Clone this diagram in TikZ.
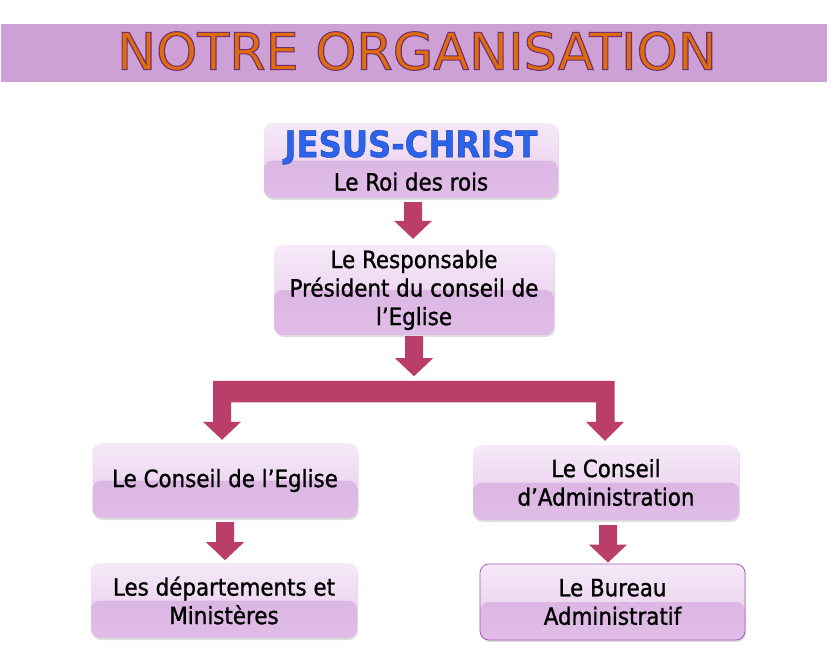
\documentclass[tikz,border=0pt]{standalone}
\usepackage{fontspec}
\setmainfont{DejaVu Sans Condensed}
\newfontfamily\bodyfont{DejaVu Sans Condensed}[FakeBold=1.0]
\newfontfamily\titlefont{DejaVu Sans Condensed}[FakeBold=2.0]
\usetikzlibrary{calc,shadows}
\definecolor{bandcol}{HTML}{CDA1D6}
\definecolor{titleorange}{HTML}{E36C0A}
\definecolor{jcblue}{HTML}{2B63EA}
\definecolor{boxtop}{HTML}{F6E9F8}
\definecolor{boxmid}{HTML}{E6C8EB}
\definecolor{boxlow}{HTML}{D9B0E1}
\definecolor{boxbot}{HTML}{E0BDE7}
\definecolor{arrowcol}{HTML}{BA3E69}
\definecolor{bordercol}{HTML}{A65DB8}
% outlined text: fill + stroke via text render mode
\newcommand\outl[3]{\special{pdf:literal direct 2 Tr #1 w #2 RG}#3\special{pdf:literal direct 0 Tr}}
\newcommand\orgarrow[2]{\fill[arrowcol] ($(#1)+(-9,0)$) -- ($(#1)+(9,0)$) -- ($(#2)+(9,-18)$) -- ($(#2)+(19,-18)$) -- (#2) -- ($(#2)+(-19,-18)$) -- ($(#2)+(-9,-18)$) -- cycle;}
\tikzset{
  orgbox/.style={rectangle, rounded corners=9pt, top color=boxtop, bottom color=boxmid,
    path picture={\shade[top color=boxlow, bottom color=boxbot] (path picture bounding box.west) rectangle (path picture bounding box.south east);},
    drop shadow={shadow xshift=1pt, shadow yshift=-2pt, opacity=0.25, fill=gray},
    align=center, inner sep=0pt, text=black, font=\bodyfont\fontsize{23.8}{28.5}\selectfont},
  bandst/.style={fill=bandcol, inner sep=0pt, minimum width=826pt, minimum height=58pt},
}
\begin{document}
\begin{tikzpicture}[x=1pt, y=-1pt]
\fill[white] (0,0) rectangle (834,650);
\useasboundingbox (0,0) rectangle (834,650);
% title band
\node[bandst] (band) at (414,53) {};
\node[inner sep=0pt] (title) at (417,51) {\resizebox{600pt}{38pt}{\titlefont\fontsize{52}{56}\selectfont\textcolor{titleorange}{\outl{0.9}{0.44 0.19 0.43}{NOTRE ORGANISATION}}}};
% boxes
\node[orgbox, minimum width=294pt, minimum height=75pt, font=\bodyfont\fontsize{23.8}{33.4}\selectfont] (jc) at (411,160.5)
  {\resizebox{253pt}{27pt}{\fontsize{37}{40}\selectfont\bfseries\textcolor{jcblue}{\outl{0.9}{0.11 0.23 0.61}{JESUS-CHRIST}}}\\Le Roi des rois};
\node[orgbox, minimum width=280pt, minimum height=90pt] (resp) at (414,290)
  {Le Responsable\\Président du conseil de\\l’Eglise};
\node[orgbox, minimum width=265pt, minimum height=75pt] (cons) at (225,480.5)
  {Le Conseil de l’Eglise};
\node[orgbox, minimum width=266pt, minimum height=75pt] (admin) at (606,482.5)
  {Le Conseil\\d’Administration};
\node[orgbox, minimum width=266pt, minimum height=75pt] (dept) at (224,600.5)
  {Les départements et\\Ministères};
\node[orgbox, draw=bordercol, line width=0.8pt, minimum width=265pt, minimum height=76pt] (bureau) at (612.5,602)
  {Le Bureau\\Administratif};
% arrows
\coordinate (a1s) at ($(jc.south)+(2,4)$);
\coordinate (a1e) at ($(resp.north)+(-1,-6)$);
\orgarrow{a1s}{a1e}
\coordinate (a2s) at ($(resp.south)+(0,1)$);
\coordinate (a2e) at ($(resp.south)+(0,41)$);
\orgarrow{a2s}{a2e}
% bracket
\coordinate (lt) at ($(cons.north)+(-3,-3)$);
\coordinate (rt) at ($(admin.north)+(-1,-4)$);
\fill[arrowcol] (lt) -- ($(lt)+(19,-18)$) -- ($(lt)+(9,-18)$) -- ($(lt)+(9,-37.5)$)
  -- ($(rt)+(-9,-38.5)$) -- ($(rt)+(-9,-19)$) -- ($(rt)+(-19,-19)$) -- (rt)
  -- ($(rt)+(19,-19)$) -- ($(rt)+(9.5,-19)$) -- ($(rt)+(9.5,-60)$)
  -- ($(lt)+(-9,-59)$) -- ($(lt)+(-9,-18)$) -- ($(lt)+(-19,-18)$) -- cycle;
\coordinate (a3s) at ($(cons.south)+(0,4)$);
\coordinate (a3e) at ($(cons.south)+(0,42)$);
\orgarrow{a3s}{a3e}
\coordinate (a4s) at ($(admin.south)+(2,5)$);
\coordinate (a4e) at ($(bureau.north)+(-4.5,-1)$);
\orgarrow{a4s}{a4e}
\end{tikzpicture}
\end{document}
